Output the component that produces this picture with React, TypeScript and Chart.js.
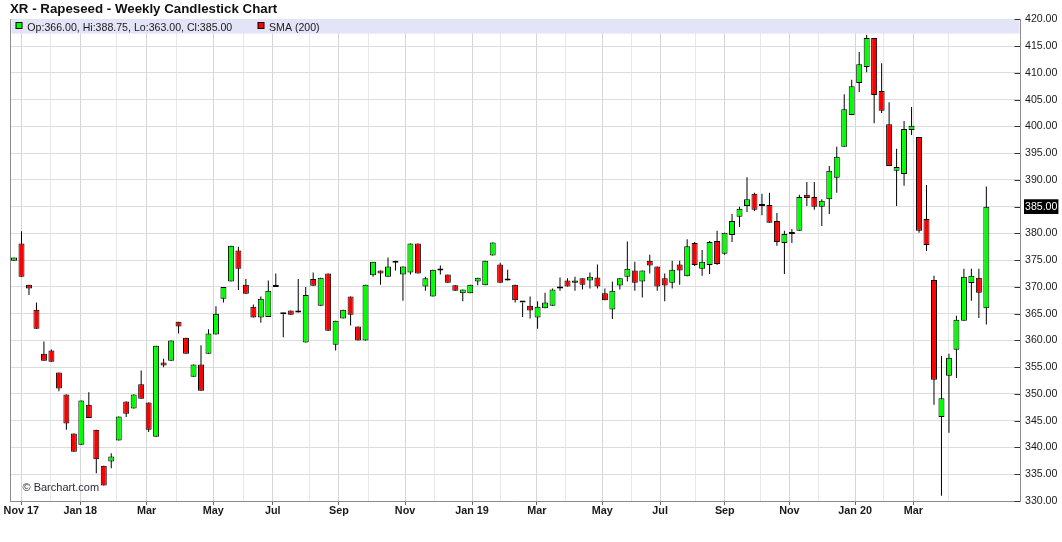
import React, { useEffect, useRef } from 'react';
import { Chart, registerables } from 'chart.js';

Chart.register(...registerables);

// Weekly OHLC, oldest first (late Oct 2017 .. Apr 2020)
const opens = [
  374.9, 378.1, 370.4, 365.75, 357.5, 358.1, 354.0, 349.9, 342.6, 340.5,
  348.0, 343.3, 336.6, 337.4, 341.3, 348.6, 347.3, 351.8, 348.4, 342.0,
  355.9, 356.2, 363.5, 360.5, 353.2, 355.5, 357.5, 361.1, 367.8, 371.0,
  376.8, 370.4, 366.3, 364.3, 364.4, 370.0, 364.9, 365.6, 365.6, 359.6,
  371.5, 366.5, 372.5, 359.2, 364.1, 368.2, 362.6, 360.0, 372.2, 373.05,
  371.9, 374.5, 372.3, 372.7, 378.1, 370.1, 368.2, 373.05, 372.3, 370.3,
  368.8, 368.8, 371.0, 370.3, 375.85, 374.2, 371.2, 370.4, 367.1, 366.5,
  364.3, 366.0, 366.5, 369.7, 371.2, 370.8, 371.6, 371.2, 371.75, 368.8,
  365.8, 370.25, 371.9, 373.05, 371.0, 374.9, 373.8, 371.6, 370.8, 374.2,
  372.0, 378.2, 373.4, 374.1, 378.6, 376.2, 379.7, 383.1, 385.1, 387.4,
  385.1, 385.3, 382.3, 378.2, 379.9, 380.5, 387.2, 386.8, 385.0, 386.4,
  390.4, 396.2, 402.1, 408.1, 411.1, 416.5, 406.6, 400.4, 391.7, 391.1,
  399.3, 398.0, 382.7, 371.3, 345.7, 353.4, 358.25, 363.7, 370.75, 371.7,
  366.0,
];

const highs = [
  375.5, 380.4, 370.4, 367.1, 359.8, 358.3, 354.0, 349.9, 342.6, 348.8,
  350.3, 343.3, 336.6, 338.9, 345.8, 348.6, 349.9, 354.4, 348.4, 359.0,
  356.6, 360.0, 363.5, 360.5, 355.5, 359.1, 362.1, 366.4, 370.0, 377.7,
  377.5, 371.5, 366.7, 368.2, 371.2, 372.5, 364.9, 365.6, 371.5, 370.0,
  372.7, 371.7, 372.5, 363.7, 365.75, 368.2, 362.6, 370.4, 374.7, 373.05,
  375.5, 374.9, 373.8, 378.1, 378.1, 371.9, 373.2, 374.0, 372.3, 370.3,
  369.5, 370.4, 371.7, 374.9, 378.3, 374.5, 373.2, 370.4, 367.1, 368.2,
  367.3, 368.9, 369.7, 371.75, 371.6, 371.9, 371.6, 372.7, 374.2, 369.7,
  371.0, 371.6, 378.5, 374.7, 373.05, 376.0, 373.8, 372.5, 374.9, 374.9,
  378.9, 378.4, 376.9, 378.6, 380.5, 380.1, 383.6, 385.0, 390.5, 387.6,
  387.4, 387.6, 383.8, 380.5, 380.8, 387.2, 389.6, 389.6, 386.4, 392.6,
  396.2, 406.0, 408.7, 413.9, 417.05, 416.5, 411.8, 404.5, 395.8, 401.0,
  403.6, 398.0, 389.05, 372.1, 357.1, 357.5, 364.6, 373.4, 373.4, 373.4,
  388.75,
];

const lows = [
  374.9, 371.9, 368.5, 362.2, 356.2, 356.0, 350.5, 343.3, 339.2, 340.5,
  345.5, 335.2, 332.9, 336.1, 341.3, 345.7, 347.3, 349.1, 342.9, 342.0,
  355.0, 356.2, 361.3, 357.5, 353.2, 350.6, 357.5, 361.1, 367.1, 371.0,
  369.4, 368.7, 364.3, 363.3, 364.4, 370.0, 360.6, 364.8, 365.2, 359.6,
  370.2, 366.5, 361.8, 358.1, 364.1, 362.8, 360.0, 360.0, 371.9, 370.4,
  371.9, 373.05, 367.4, 372.3, 372.5, 369.3, 368.2, 372.3, 370.8, 369.3,
  367.3, 368.8, 370.3, 370.3, 375.85, 370.8, 371.2, 367.1, 364.4, 364.1,
  362.2, 366.0, 366.5, 369.3, 370.1, 369.3, 369.5, 369.7, 369.7, 367.5,
  364.0, 369.5, 371.0, 369.3, 368.0, 372.5, 369.3, 367.3, 369.7, 370.4,
  372.0, 373.9, 372.1, 372.4, 374.1, 376.0, 378.4, 381.2, 384.0, 384.2,
  383.4, 382.0, 377.7, 372.4, 378.2, 380.5, 385.1, 384.4, 381.4, 383.6,
  387.6, 396.2, 402.1, 406.4, 410.1, 400.6, 402.5, 392.6, 385.1, 388.9,
  398.4, 380.1, 376.7, 348.0, 331.0, 342.75, 353.0, 363.7, 367.4, 364.2,
  363.0,
];

const closes = [
  375.5, 371.9, 369.7, 362.2, 356.2, 356.0, 351.0, 344.5, 339.2, 348.8,
  345.5, 337.8, 332.9, 338.3, 345.8, 346.3, 349.9, 349.1, 343.3, 359.0,
  355.3, 360.0, 362.6, 357.5, 355.5, 350.6, 361.3, 365.0, 370.0, 377.7,
  373.4, 368.7, 364.3, 367.8, 369.3, 370.0, 364.9, 364.8, 365.2, 368.5,
  370.2, 371.7, 361.8, 363.7, 365.75, 364.8, 360.0, 370.4, 374.7, 372.5,
  373.8, 374.9, 373.8, 378.1, 372.5, 371.6, 373.2, 373.4, 370.8, 369.3,
  369.5, 370.4, 371.7, 374.9, 378.3, 370.8, 371.2, 367.5, 367.1, 365.6,
  366.3, 367.1, 369.5, 369.7, 370.1, 371.2, 370.4, 371.9, 370.1, 367.5,
  369.3, 371.6, 373.4, 370.8, 373.05, 374.0, 370.1, 370.25, 373.2, 373.05,
  377.6, 374.1, 374.7, 378.4, 374.3, 380.1, 382.3, 384.6, 386.4, 384.4,
  385.1, 382.0, 378.4, 379.9, 379.9, 386.8, 386.6, 385.0, 386.1, 391.7,
  394.3, 403.2, 407.5, 411.6, 416.5, 405.85, 402.9, 392.6, 392.4, 399.5,
  400.1, 380.5, 377.85, 352.65, 349.2, 356.75, 363.85, 371.9, 372.1, 368.9,
  385.0,
];

// Month grid positions (in week-index units) and their labels
const monthTickPos = [
  0.976, 4.907, 8.865, 13.73, 17.74, 21.75, 26.65, 30.66, 34.59, 39.48,
  43.45, 47.37, 52.28, 56.25, 61.24, 65.07, 69.89, 73.77, 78.66, 82.54,
  86.38, 91.15, 95.03, 99.84, 103.67, 107.59, 112.45, 116.2, 120.25, 124.92,
];
const monthTickLabels = [
  'Nov 17', '', 'Jan 18', '', 'Mar', '', 'May', '', 'Jul', '',
  'Sep', '', 'Nov', '', 'Jan 19', '', 'Mar', '', 'May', '',
  'Jul', '', 'Sep', '', 'Nov', '', 'Jan 20', '', 'Mar', '',
];

const Y_MIN = 330;
const Y_MAX = 420;
const Y_STEP = 5;

const TITLE = 'XR - Rapeseed - Weekly Candlestick Chart';
const SMA_LABEL = 'SMA (200)';
const WATERMARK = '\u00A9 Barchart.com';

const FONT = '"Liberation Sans", Arial, sans-serif';
const UP = '#00ff00';
const DOWN = '#ff0000';

export default function App() {
  const ref = useRef<HTMLCanvasElement | null>(null);

  useEffect(() => {
    if (!ref.current) return;
    const n = closes.length;
    const idx = closes.map((_, i) => i);
    const lastClose = closes[n - 1];
    const ohlcText =
      `Op:${opens[n - 1].toFixed(2)}, Hi:${highs[n - 1].toFixed(2)}, ` +
      `Lo:${lows[n - 1].toFixed(2)}, Cl:${closes[n - 1].toFixed(2)}`;

    const bodyColor = (i: number) =>
      closes[i] > opens[i] ? UP : closes[i] < opens[i] ? DOWN : '#000000';

    const overlay = {
      id: 'overlay',
      beforeDatasetsDraw(chart: any) {
        const { ctx, chartArea: a } = chart;
        ctx.save();
        // legend band
        ctx.fillStyle = '#e4e4f8';
        ctx.fillRect(a.left + 1, a.top, a.right - a.left - 1.5, 14.3);
        // legend items
        const sq = (x: number, color: string) => {
          ctx.fillStyle = color;
          ctx.fillRect(x, a.top + 3.2, 6, 6);
          ctx.strokeStyle = '#000';
          ctx.lineWidth = 1;
          ctx.strokeRect(x, a.top + 3.2, 6, 6);
        };
        ctx.font = `10.6px ${FONT}`;
        ctx.textBaseline = 'alphabetic';
        sq(a.left + 5.5, UP);
        ctx.fillStyle = '#1a1a1a';
        ctx.fillText(ohlcText, a.left + 16.8, a.top + 11.7);
        sq(a.left + 247.5, DOWN);
        ctx.fillStyle = '#1a1a1a';
        ctx.fillText(SMA_LABEL, a.left + 258.5, a.top + 11.7);
        ctx.restore();
      },
      afterDraw(chart: any) {
        const { ctx, chartArea: a } = chart;
        const ys = chart.scales.y;
        ctx.save();
        // left frame line
        ctx.strokeStyle = '#8c8c8c';
        ctx.lineWidth = 1;
        ctx.beginPath();
        ctx.moveTo(Math.floor(a.left) + 0.5, a.top);
        ctx.lineTo(Math.floor(a.left) + 0.5, a.bottom);
        ctx.stroke();
        // inward tick dashes on the price axis
        ctx.strokeStyle = '#333';
        ctx.beginPath();
        ys.ticks.forEach((t: any) => {
          const py = Math.round(ys.getPixelForValue(t.value)) + 0.5;
          ctx.moveTo(a.right - 5.5, py);
          ctx.lineTo(a.right, py);
        });
        ctx.stroke();
        // title
        ctx.fillStyle = '#111';
        ctx.font = `bold 13.3px ${FONT}`;
        ctx.textBaseline = 'alphabetic';
        ctx.fillText(TITLE, 10, 13.3);
        // watermark
        ctx.fillStyle = '#2a2a3a';
        ctx.font = `11px ${FONT}`;
        ctx.fillText(WATERMARK, a.left + 12, a.bottom - 10);
        ctx.restore();
      },
    };

    const chart = new Chart(ref.current, {
      type: 'bar',
      data: {
        datasets: [
          {
            label: 'body',
            data: idx.map((i) => ({ x: i, y: [opens[i], closes[i]] })) as any,
            backgroundColor: idx.map(bodyColor),
            borderColor: '#000000',
            borderWidth: 1,
            borderSkipped: false,
            barThickness: 6,
            minBarLength: 2,
            grouped: false,
            inflateAmount: 0,
            order: 0,
          } as any,
          {
            label: 'wick',
            data: idx.map((i) => ({ x: i, y: [lows[i], highs[i]] })) as any,
            backgroundColor: '#000000',
            borderWidth: 0,
            barThickness: 1,
            grouped: false,
            inflateAmount: 0,
            order: 1,
          } as any,
        ],
      },
      options: {
        animation: false,
        responsive: true,
        maintainAspectRatio: false,
        layout: { padding: { top: 19.3, left: 10.5, right: 0, bottom: 0 } },
        plugins: {
          legend: { display: false },
          tooltip: { enabled: false },
          title: { display: false },
        },
        scales: {
          x: {
            type: 'linear',
            min: -0.47,
            max: 134.5,
            offset: false,
            grid: {
              offset: false,
              color: (c: any) => (monthTickLabels[c.index] ? '#d6d6d6' : '#e9e9e9'),
              tickColor: (c: any) => (monthTickLabels[c.index] ? '#666' : 'rgba(0,0,0,0)'),
              tickLength: 4,
              lineWidth: 1,
            },
            border: { display: true, color: '#8c8c8c', width: 1 },
            ticks: {
              autoSkip: false,
              maxRotation: 0,
              minRotation: 0,
              padding: 0,
              color: '#1a1a1a',
              font: { family: FONT, size: 10.8, weight: 'bold' },
              callback: (_v: any, i: number) => monthTickLabels[i] ?? '',
            },
            afterBuildTicks: (scale: any) => {
              scale.ticks = monthTickPos.map((v) => ({ value: v }));
            },
            afterFit: (scale: any) => {
              scale.height = 41;
            },
          } as any,
          y: {
            type: 'linear',
            position: 'right',
            min: Y_MIN,
            max: Y_MAX,
            beginAtZero: false,
            grid: { color: '#dcdcdc', tickColor: 'rgba(0,0,0,0)', tickLength: 5, lineWidth: 1 },
            border: { display: true, color: '#8c8c8c', width: 1 },
            ticks: {
              stepSize: Y_STEP,
              autoSkip: false,
              padding: 0,
              font: { family: FONT, size: 10.6 },
              color: (c: any) => (c.tick && c.tick.value === lastClose ? '#ffffff' : '#1a1a1a'),
              showLabelBackdrop: true,
              backdropColor: (c: any) =>
                c.tick && c.tick.value === lastClose ? '#000000' : 'rgba(0,0,0,0)',
              backdropPadding: { top: 1, bottom: 1, left: 1, right: 1 },
              callback: (v: any) => Number(v).toFixed(2),
            },
            afterFit: (scale: any) => {
              scale.width = 42;
            },
          } as any,
        },
      },
      plugins: [overlay],
    });
    return () => chart.destroy();
  }, []);

  return (
    <div style={{ position: 'fixed', left: 0, top: 0, width: 1062, height: 542, background: '#fff' }}>
      <canvas ref={ref} />
    </div>
  );
}
